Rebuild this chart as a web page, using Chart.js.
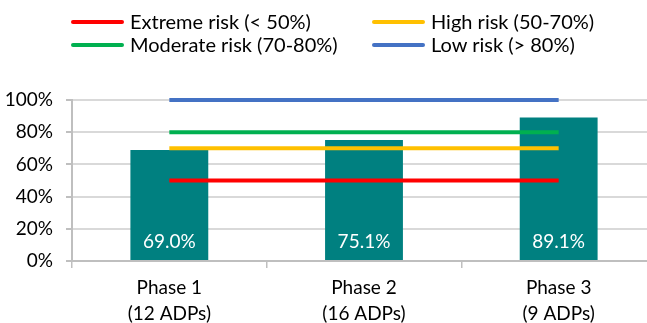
<!DOCTYPE html>
<html>
<head>
<meta charset="utf-8">
<script src="https://cdn.jsdelivr.net/npm/chart.js@4/dist/chart.umd.min.js"></script>
<style>
  html, body { margin: 0; padding: 0; background: #fff; overflow: hidden; width: 647px; height: 323px; }
  #wrap { position: relative; width: 647px; height: 323px; overflow: hidden; }
  #c { position: absolute; left: 0; top: 0; }
  .lg { position: absolute; font-family: Lato, sans-serif; font-size: 20px; color: #000; white-space: nowrap; }
  .lg .sw { position: absolute; height: 4px; border-radius: 2px; }
  .lg .tx { position: absolute; line-height: 20px; }
</style>
</head>
<body>
<div id="wrap">
  <canvas id="c" width="656" height="323"></canvas>
</div>
<script>
// Phases and the share of ADPs in each one
const categories = [['Phase 1', '(12 ADPs)'], ['Phase 2', '(16 ADPs)'], ['Phase 3', '(9 ADPs)']];
const shareValues = [69.0, 75.1, 89.1];

// Risk thresholds drawn as horizontal reference lines
const riskNames = ['Extreme risk (< 50%)', 'High risk (50-70%)', 'Moderate risk (70-80%)', 'Low risk (> 80%)'];
const riskLevels = [50, 70, 80, 100];
const riskColors = ['#FF0000', '#FFC000', '#00B050', '#4472C4'];

const yTicks = [0, 20, 40, 60, 80, 100];

const FONT = 'Lato, sans-serif';
const TEAL = '#008080';

// Legend in two columns above the plot
const legendSlots = [
  { x: 71, y: 22 }, { x: 372, y: 22 },
  { x: 71, y: 45 }, { x: 372, y: 45 }
];
const wrap = document.getElementById('wrap');
riskNames.forEach((name, i) => {
  const s = legendSlots[i];
  const item = document.createElement('div');
  item.className = 'lg';
  item.style.left = s.x + 'px';
  item.style.top = s.y + 'px';
  const sw = document.createElement('div');
  sw.className = 'sw';
  sw.style.background = riskColors[i];
  sw.style.left = '0px';
  sw.style.width = '53px';
  sw.style.top = '-2px';
  const tx = document.createElement('div');
  tx.className = 'tx';
  tx.textContent = name;
  tx.style.left = '59px';
  tx.style.top = '-11px';
  item.appendChild(sw);
  item.appendChild(tx);
  wrap.appendChild(item);
});

// White value labels near the foot of each bar
const barValueLabels = {
  id: 'barValueLabels',
  afterDatasetsDraw(chart) {
    const meta = chart.getDatasetMeta(0);
    const y0 = chart.scales.y.getPixelForValue(0);
    const ctx = chart.ctx;
    ctx.save();
    ctx.font = '19px ' + FONT;
    ctx.fillStyle = '#ffffff';
    ctx.textAlign = 'center';
    ctx.textBaseline = 'middle';
    meta.data.forEach((el, i) => {
      ctx.fillText(shareValues[i].toFixed(1) + '%', el.x, y0 - 19);
    });
    ctx.restore();
  }
};

const datasets = [
  {
    type: 'bar',
    label: 'Share',
    data: shareValues,
    backgroundColor: TEAL,
    borderWidth: 0,
    barPercentage: 0.4,
    categoryPercentage: 1.0,
    order: 2
  }
];
riskLevels.forEach((lvl, i) => {
  datasets.push({
    type: 'line',
    label: riskNames[i],
    data: categories.map(() => lvl),
    borderColor: riskColors[i],
    backgroundColor: riskColors[i],
    borderWidth: 4,
    pointRadius: 0,
    fill: false,
    clip: false,
    order: 1
  });
});

new Chart(document.getElementById('c'), {
  data: { labels: categories, datasets },
  options: {
    responsive: false,
    animation: false,
    devicePixelRatio: 1,
    layout: { padding: { top: 100, left: 0, right: 0, bottom: 0 } },
    plugins: { legend: { display: false }, tooltip: { enabled: false } },
    scales: {
      x: {
        offset: true,
        grid: {
          offset: true,
          drawOnChartArea: false,
          drawTicks: true,
          tickLength: 7,
          color: '#bfbfbf',
          lineWidth: 1.5
        },
        border: { color: '#bfbfbf', width: 2 },
        ticks: {
          color: '#000',
          font: { family: FONT, size: 19, lineHeight: 1.38 },
          padding: 7,
          maxRotation: 0
        },
        afterFit(scale) { scale.height = 62; }
      },
      y: {
        min: 0,
        max: 100,
        afterBuildTicks(scale) { scale.ticks = yTicks.map(v => ({ value: v })); },
        grid: {
          color: '#d9d9d9',
          lineWidth: 2,
          drawTicks: true,
          tickLength: 6,
          tickColor: '#bfbfbf'
        },
        border: { color: '#bfbfbf', width: 2 },
        ticks: {
          color: '#000',
          font: { family: FONT, size: 19 },
          padding: 13,
          callback: v => v + '%'
        },
        afterFit(scale) { scale.width = 72; }
      }
    }
  },
  plugins: [barValueLabels]
});
</script>
</body>
</html>
